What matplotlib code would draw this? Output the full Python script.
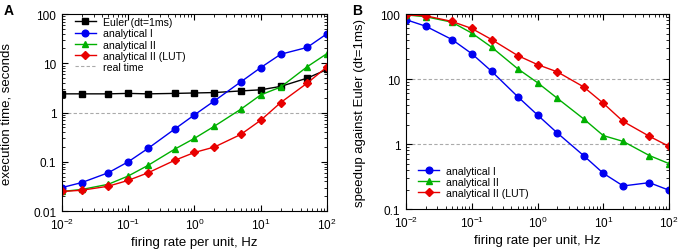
import numpy as np
import matplotlib
matplotlib.use("Agg")
import matplotlib.pyplot as plt
from matplotlib.ticker import LogLocator, FixedLocator, FixedFormatter

plt.rcParams['font.family'] = ['Liberation Sans', 'DejaVu Sans']
plt.rcParams['font.size'] = 9.5
plt.rcParams['mathtext.fontset'] = 'custom'
plt.rcParams['mathtext.rm'] = 'Liberation Sans'

# firing rates (Hz)
rate = [0.01, 0.02, 0.05, 0.1, 0.2, 0.5, 1, 2, 5, 10, 20, 50, 100]

# panel A: execution time, seconds
t_euler = [2.4, 2.4, 2.4, 2.45, 2.4, 2.45, 2.5, 2.55, 2.75, 2.9, 3.4, 5.0, 7.5]
t_an1 = [0.030, 0.038, 0.060, 0.10, 0.188, 0.46, 0.90, 1.73, 4.2, 8.2, 15.3, 21, 40]
t_an2 = [0.025, 0.0275, 0.035, 0.0515, 0.085, 0.18, 0.30, 0.53, 1.17, 2.29, 3.3, 8.5, 15.8]
t_lut = [0.025, 0.0265, 0.032, 0.042, 0.060, 0.107, 0.155, 0.20, 0.36, 0.70, 1.6, 3.95, 8.5]

# panel B: speedup against Euler
s_an1 = [82, 65, 40.6, 24.6, 13.2, 5.36, 2.8, 1.48, 0.667, 0.355, 0.227, 0.255, 0.195]
s_an2 = [97, 91, 75, 51, 31, 14.4, 8.8, 5.06, 2.45, 1.35, 1.1, 0.667, 0.50]
s_lut = [97, 94, 77, 60, 40.6, 23, 16.7, 12.9, 7.6, 4.24, 2.23, 1.32, 0.92]

blue = '#0000f0'
green = '#00b000'
red = '#e80000'

fig = plt.figure(figsize=(6.8, 2.51), dpi=100)
axA = fig.add_axes([0.091, 0.155, 0.390, 0.785])
axB = fig.add_axes([0.597, 0.163, 0.387, 0.777])

mk = dict(lw=1.0, ms=4.8)

def style(ax, ymin, ymax, yticks):
    ax.set_xscale('log')
    ax.set_yscale('log')
    ax.set_xlim(0.01, 100)
    ax.set_ylim(ymin, ymax)
    ax.set_xticks([0.01, 0.1, 1, 10, 100])
    ax.set_xticklabels([r'$10^{-2}$', r'$10^{-1}$', r'$10^{0}$', r'$10^{1}$', r'$10^{2}$'])
    ax.xaxis.set_minor_locator(LogLocator(base=10, subs=np.arange(2, 10)))
    ax.yaxis.set_major_locator(FixedLocator(yticks))
    ax.yaxis.set_major_formatter(FixedFormatter([('%g' % v) for v in yticks]))
    ax.yaxis.set_minor_locator(LogLocator(base=10, subs=np.arange(2, 10)))
    ax.tick_params(which='both', direction='in', top=True, right=True, labelsize=8.5)
    ax.tick_params(which='major', length=4, width=0.8)
    ax.tick_params(axis='x', which='major', pad=4)
    ax.tick_params(axis='y', which='major', pad=4)
    ax.tick_params(which='minor', length=2, width=0.6)
    ax.set_xlabel('firing rate per unit, Hz', fontsize=9.5, labelpad=3)

leg_kw = dict(frameon=False, fontsize=7.6, handlelength=2.0, handletextpad=0.65,
              labelspacing=0.12, borderaxespad=0, borderpad=0)

# panel A
axA.axhline(1, color='#aaaaaa', ls='--', lw=0.8, dashes=(3, 2), label='real time', zorder=1)
axA.plot(rate, t_euler, color='black', marker='s', label='Euler (dt=1ms)', ms=4.6, lw=1.0)
axA.plot(rate, t_an1, color=blue, marker='o', label='analytical I', **mk)
axA.plot(rate, t_an2, color=green, marker='^', label='analytical II', **mk)
axA.plot(rate, t_lut, color=red, marker='D', label='analytical II (LUT)', lw=1.0, ms=4.0)
style(axA, 0.01, 100, [0.01, 0.1, 1, 10, 100])
axA.set_ylabel('execution time, seconds', fontsize=9.5)
axA.yaxis.set_label_coords(-0.185, 0.5)
h, l = axA.get_legend_handles_labels()
order = [1, 2, 3, 4, 0]
axA.legend([h[i] for i in order], [l[i] for i in order], loc='upper left',
           bbox_to_anchor=(0.049, 0.985), **leg_kw)
fig.text(0.005, 0.94, 'A', fontsize=10, fontweight='bold')

# panel B
for yv in [1, 10]:
    axB.axhline(yv, color='#aaaaaa', ls='--', lw=0.8, dashes=(3, 2), zorder=1)
axB.plot(rate, s_an1, color=blue, marker='o', label='analytical I', **mk)
axB.plot(rate, s_an2, color=green, marker='^', label='analytical II', **mk)
axB.plot(rate, s_lut, color=red, marker='D', label='analytical II (LUT)', lw=1.0, ms=4.0)
style(axB, 0.1, 100, [0.1, 1, 10, 100])
axB.set_ylabel('speedup against Euler (dt=1ms)', fontsize=9.5)
axB.yaxis.set_label_coords(-0.15, 0.5)
axB.legend(loc='lower left', bbox_to_anchor=(0.046, 0.056), **leg_kw)
fig.text(0.518, 0.94, 'B', fontsize=10, fontweight='bold')

fig.savefig('out.png', dpi=100)
